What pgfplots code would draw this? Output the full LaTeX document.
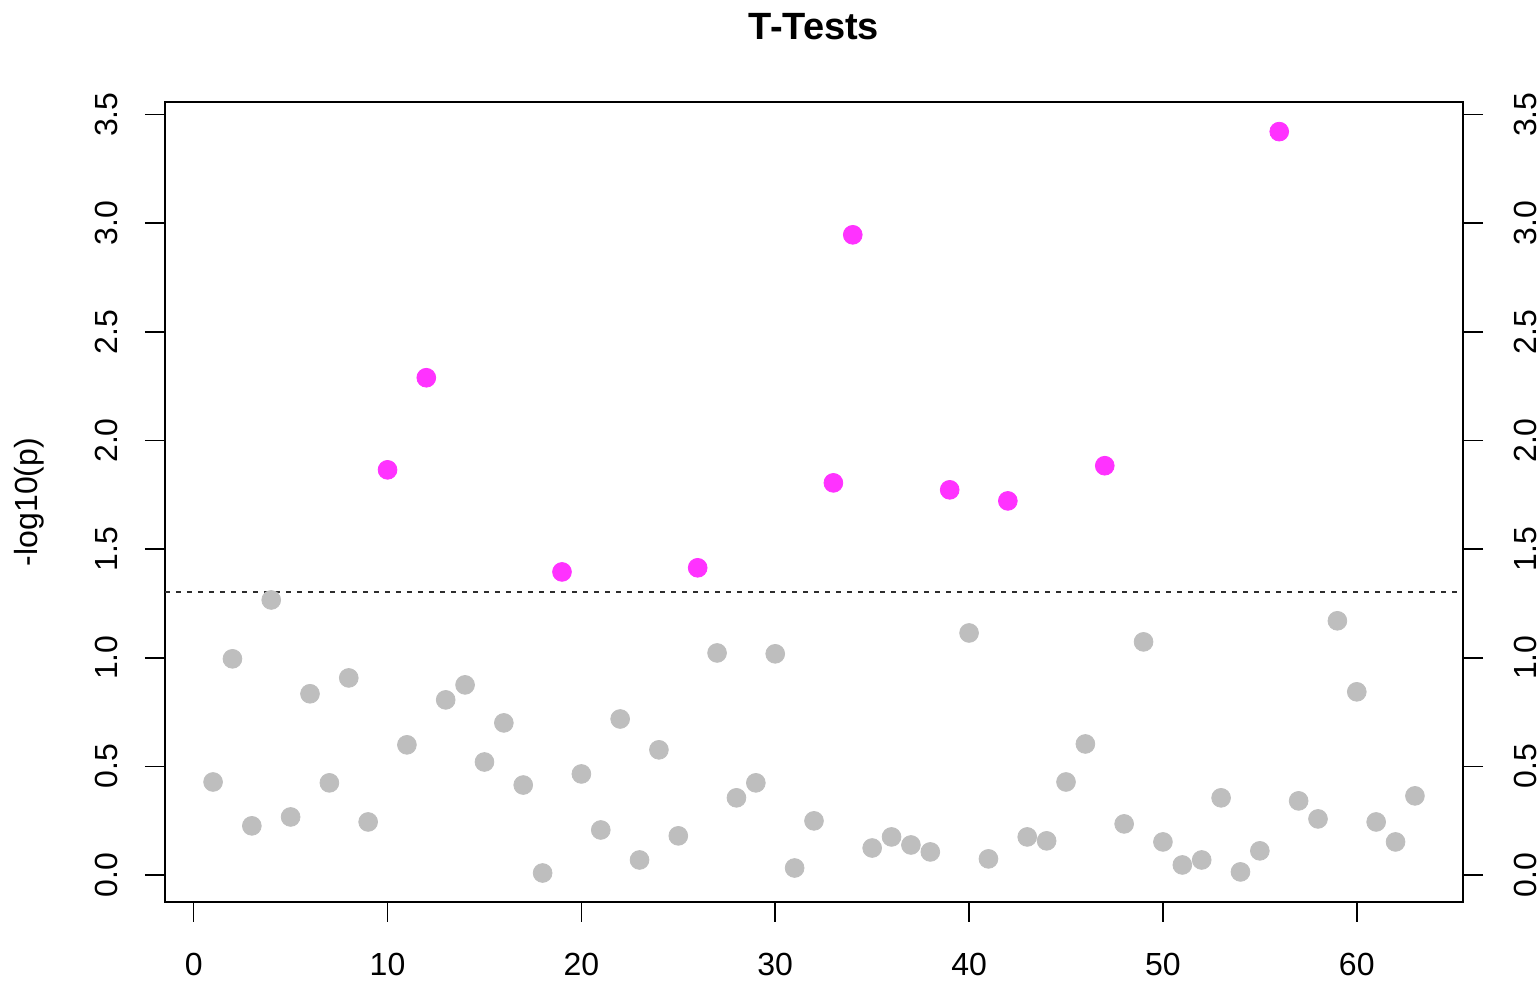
\documentclass[border=0pt]{standalone}
\usepackage{pgfplots}
\pgfplotsset{compat=1.18}
\usepackage{fontspec}
\setmainfont{Liberation Sans}
\definecolor{ptgrey}{RGB}{190,190,190}
\definecolor{ptmag}{RGB}{255,50,255}
\definecolor{dashgrey}{RGB}{45,45,45}
\begin{document}
\begin{tikzpicture}
\path[use as bounding box] (-82.5pt,-40.5pt) rectangle (686pt,451pt);
\begin{axis}[
  name=ax, at={(0,0)}, anchor=south west,
  scale only axis, width=649pt, height=400pt,
  xmin=-1.48, xmax=65.48, ymin=-0.1245, ymax=3.5585,
  axis line style={line width=1pt, black},
  tick style={line width=0.8pt, black},
  tick align=outside, major tick length=10pt,
  xtick={0,10,...,60}, ytick={0,0.5,...,3.5},
  xtick pos=bottom, ytick pos=left,
  /pgf/number format/assume math mode=true,
  yticklabel={\pgfmathprintnumber[fixed,fixed zerofill,precision=1]{\tick}},
  xticklabel={\pgfmathprintnumber[fixed,precision=0]{\tick}},
  ticklabel style={font=\fontsize{16}{18}\selectfont},
  xticklabel style={yshift=-12pt},
  yticklabel style={rotate=90, anchor=south, xshift=0pt, yshift=10pt},
  ylabel={-log10(p)},
  ylabel style={font=\fontsize{16}{18}\selectfont, at={(axis description cs:0,0.5)}, anchor=south, yshift=57pt},
  title={\bfseries T-Tests},
  title style={font=\fontsize{19}{22}\selectfont, at={(axis description cs:0.5,1)}, anchor=base, yshift=25pt},
  clip=false,
]
\addplot[ptgrey, only marks, mark=*, mark size=4.7pt, mark options={draw=ptgrey, fill=ptgrey}] coordinates {
(1,0.428)(2,0.995)(3,0.226)(4,1.266)(5,0.267)(6,0.834)(7,0.424)(8,0.907)(9,0.244)
(11,0.599)(13,0.806)(14,0.875)(15,0.520)(16,0.700)(17,0.414)(18,0.009)
(20,0.465)(21,0.207)(22,0.718)(23,0.069)(24,0.576)(25,0.180)(27,1.022)(28,0.355)(29,0.424)(30,1.018)
(31,0.032)(32,0.249)(35,0.124)(36,0.175)(37,0.138)(38,0.106)(40,1.114)
(41,0.074)(43,0.175)(44,0.157)(45,0.428)(46,0.603)(48,0.235)(49,1.073)(50,0.152)
(51,0.046)(52,0.069)(53,0.355)(54,0.014)(55,0.111)(57,0.341)(58,0.258)(59,1.170)(60,0.843)
(61,0.244)(62,0.152)(63,0.364)
};
\addplot[ptmag, only marks, mark=*, mark size=4.7pt, mark options={draw=ptmag, fill=ptmag}] coordinates {
(10,1.865)(12,2.289)(19,1.395)(26,1.414)(33,1.805)(34,2.947)(39,1.773)(42,1.722)(47,1.884)(56,3.422)
};
\addplot[dashgrey, line width=1pt, dash pattern=on 2.5pt off 3pt] coordinates {(-1.48,1.30103)(65.48,1.30103)};
\end{axis}
\begin{axis}[
  at={(0,0)}, anchor=south west,
  scale only axis, width=649pt, height=400pt,
  xmin=-1.48, xmax=65.48, ymin=-0.1245, ymax=3.5585,
  axis x line=none, axis y line*=right,
  axis line style={line width=1pt, black},
  tick style={line width=0.8pt, black},
  tick align=outside, major tick length=10pt,
  ytick={0,0.5,...,3.5},
  /pgf/number format/assume math mode=true,
  yticklabel={\pgfmathprintnumber[fixed,fixed zerofill,precision=1]{\tick}},
  ticklabel style={font=\fontsize{16}{18}\selectfont},
  yticklabel style={rotate=90, anchor=north, yshift=-12pt},
]
\addplot[draw=none] coordinates {(0,0)};
\end{axis}
\end{tikzpicture}
\end{document}
